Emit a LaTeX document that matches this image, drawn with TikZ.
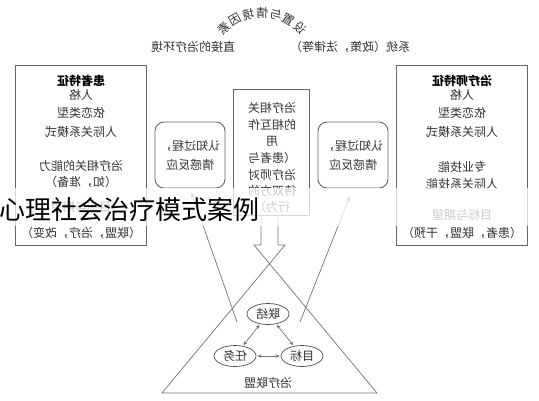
\documentclass[tikz,border=0pt]{standalone}
\usepackage{fontspec}
\setmainfont{Noto Sans CJK SC}
\usetikzlibrary{shapes.geometric,arrows.meta}

\begin{document}
\begin{tikzpicture}[x=1pt,y=-1pt,
  mir/.style={xscale=-1,transform shape,inner sep=0pt,text=black!80,font=\fontsize{12}{19}\selectfont},
  headtxt/.style={mir,text=black,font=\fontsize{12}{19}\selectfont\bfseries},
  bigbox/.style={draw=black!60,line width=0.9pt,minimum width=131,minimum height=180},
  cogbox/.style={draw=black!60,line width=0.9pt,rounded corners=9pt,minimum width=70,minimum height=66},
  bond/.style={ellipse,draw=black!70,line width=0.7pt,minimum width=42,minimum height=21},
  link/.style={draw=black!55,line width=0.7pt}]
  \useasboundingbox (0,0) rectangle (539,400);

  % arc heading
  \foreach \c [count=\i from 0] in {素,因,境,情,与,置,设}{
    \pgfmathsetmacro\ang{-44+\i*88/6}
    \node[rotate=-\ang,mir] (arc\i) at ({262+55*sin(\ang)},{68-55*cos(\ang)}) {\c};
  }
  \node[mir] (env) at (193,47) {直接的治疗环境};
  \node[mir] (sys) at (350,47) {系统（政策，法律等）};

  % patient side
  \node[bigbox] (patbox) at (81,155) {};
  \node[headtxt] (pattitle) at (81,81) {患者特征};
  \foreach \yy/\tx [count=\i] in {95/人格,113/依恋类型,132/人际关系模式,166/治疗相关的能力,182/（如，准备）,207/目标与期望,233/（联盟，治疗，改变）}
    \node[mir] (pat\i) at (81,\yy) {\tx};

  % therapist side
  \node[bigbox] (thbox) at (462,155) {};
  \node[headtxt] (thtitle) at (462,81) {治疗师特征};
  \foreach \yy/\tx [count=\i] in {95/人格,113/依恋类型,132/人际关系模式,167/专业技能,184/人际关系技能,215/目标与期望,233/（患者，联盟，干预）}
    \node[mir] (th\i) at (462,\yy) {\tx};

  % middle
  \node[cogbox,mir,align=center] (lcog) at (190,155) {认知过程，\\情感反应};
  \node[cogbox,mir,align=center] (rcog) at (353,155) {认知过程，\\情感反应};
  \node[draw=black!60,line width=0.9pt,minimum width=76,minimum height=126] (mid) at (271,152) {};
  \foreach \yy/\tx [count=\i] in {108/治疗相关,125/的相互作,141/用,158/（患者与,175/治疗师对,191/待双方的,207/行为）}
    \node[mir] (mid\i) at (272,\yy) {\tx};

  % hollow arrow into the alliance triangle
  \coordinate (sl) at (261,215);
  \coordinate (sr) at (278,215);
  \draw[link] (sl) -- (261,245) -- (254,245) -- (377,393) -- (162,393) -- (285,245) -- (278,245) -- (sr);

  \node[bond,mir] (bondn) at (268,314) {联结};
  \node[bond,mir] (task) at (235,356) {任务};
  \node[bond,mir] (goal) at (302,356) {目标};
  \node[mir] (alliance) at (268,383) {治疗联盟};
  \draw[link,{Stealth[length=4pt,width=3.5pt]}-{Stealth[length=4pt,width=3.5pt]},shorten <=1pt,shorten >=1pt] (bondn) -- (task);
  \draw[link,{Stealth[length=4pt,width=3.5pt]}-{Stealth[length=4pt,width=3.5pt]},shorten <=1pt,shorten >=1pt] (bondn) -- (goal);
  \draw[link,{Stealth[length=4pt,width=3.5pt]}-{Stealth[length=4pt,width=3.5pt]},shorten <=1pt,shorten >=1pt] (task) -- (goal);

  \coordinate (lfoot) at (237,322);
  \coordinate (rfoot) at (300,322);
  \draw[link,-{Stealth[length=6pt,width=4pt]},shorten >=4pt] (lfoot) -- (lcog.south);
  \draw[link,-{Stealth[length=6pt,width=4pt]},shorten >=8pt] (rfoot) -- (rcog.south);

  % caption band
  \fill[white,opacity=0.75] (0,188) rectangle (539,226);
  \node[anchor=west,inner sep=0pt,font=\fontsize{26}{29}\selectfont] (caption) at (-1,210) {心理社会治疗模式案例};
\end{tikzpicture}
\end{document}
